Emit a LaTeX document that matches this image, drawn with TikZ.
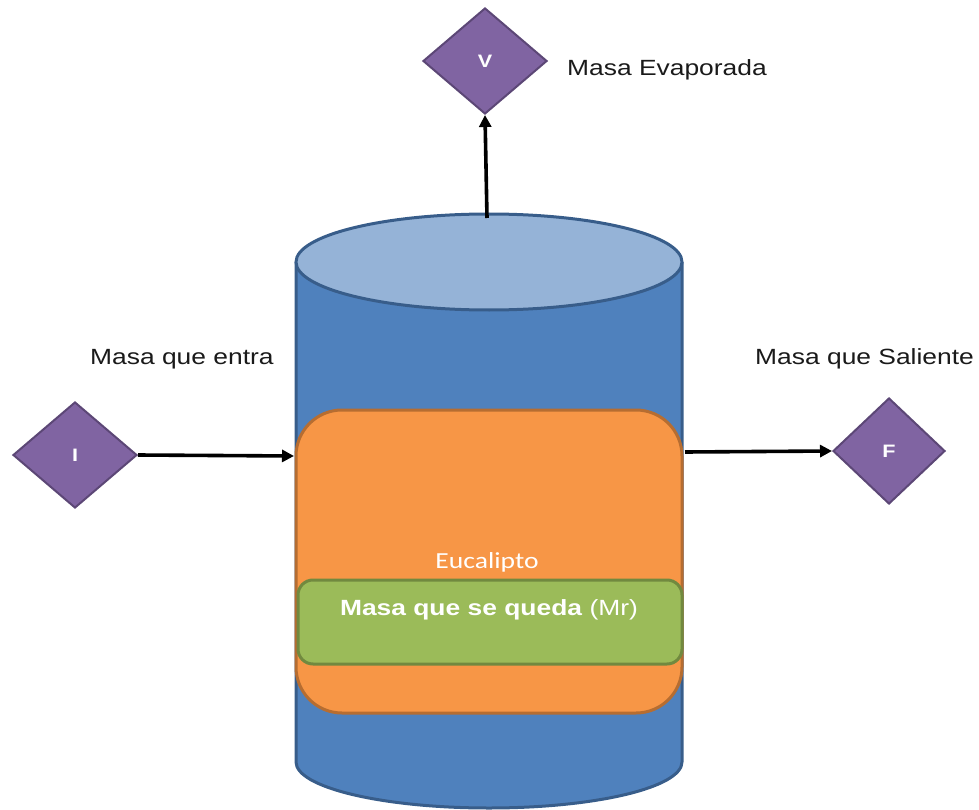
\documentclass[tikz,border=0pt]{standalone}
\usepackage{fontspec}
\setmainfont{Liberation Sans}
\newfontfamily\calibrifont{Carlito}
\usetikzlibrary{shapes.geometric,arrows.meta}
\definecolor{tankblue}{HTML}{4F81BD}
\definecolor{tankedge}{HTML}{385D8A}
\definecolor{tanktop}{HTML}{95B3D7}
\definecolor{orfill}{HTML}{F79646}
\definecolor{oredge}{HTML}{B66D31}
\definecolor{grfill}{HTML}{9BBB59}
\definecolor{gredge}{HTML}{71893F}
\definecolor{vfill}{HTML}{8064A2}
\definecolor{vedge}{HTML}{5C4776}
\definecolor{labelink}{HTML}{1A1A1A}
\newcommand{\wide}[1]{\scalebox{1.2}[1]{#1}}
\tikzset{
  flowmark/.style={diamond, fill=vfill, draw=vedge, line width=2pt, inner sep=0pt,
    minimum width=124pt, minimum height=106pt, text=white,
    font=\fontsize{18}{18}\selectfont\bfseries},
  sidelabel/.style={text=labelink, font=\fontsize{22}{24}\selectfont, inner sep=0pt},
  flowarrow/.style={line width=3.6pt, -{Triangle[length=12pt,width=12pt]}}
}
\begin{document}
\begin{tikzpicture}[x=1pt,y=-1pt]
\useasboundingbox (0,0) rectangle (979,810);

% tank body and lid
\fill[tankblue] (296,262) -- (296,762) arc[start angle=180,end angle=0,x radius=193,y radius=46] -- (682,262) -- cycle;
\draw[tankedge, line width=3pt] (296,262) -- (296,762) arc[start angle=180,end angle=0,x radius=193,y radius=46] -- (682,262);
\draw[tankedge, line width=3pt, fill=tanktop] (489,262) ellipse[x radius=193, y radius=48];
\coordinate (lid) at (487,218);

% contents
\node[draw=oredge, fill=orfill, line width=3pt, rounded corners=46pt,
  minimum width=386pt, minimum height=303pt, inner sep=0pt] (euc) at (489,561.5) {};
\node[text=white, font=\calibrifont\fontsize{23}{24}\selectfont, inner sep=0pt] (euclabel) at (487,562) {\wide{Eucalipto}};
\node[draw=gredge, fill=grfill, line width=3pt, rounded corners=15pt,
  minimum width=384pt, minimum height=84pt, inner sep=0pt] (kept) at (490,622) {};
\node[text=white, font=\fontsize{22}{24}\selectfont, inner sep=0pt] (keptlabel) at (489,610)
  {\wide{\textbf{Masa que se queda} (Mr)}};

% stream markers
\node[flowmark] (V) at (485,61) {\wide{V}};
\node[flowmark] (I) at (75,455) {\wide{I}};
\node[flowmark, minimum width=112pt] (F) at (889,451) {\wide{F}};

% labels
\node[sidelabel, anchor=west] (lv) at (567,70) {\wide{Masa Evaporada}};
\node[sidelabel, anchor=west] (li) at (90,359) {\wide{Masa que entra}};
\node[sidelabel, anchor=west] (lf) at (755,359) {\wide{Masa que Saliente}};

% streams
\coordinate (inlet) at (294,456);
\coordinate (outlet) at (685,452);
\draw[flowarrow] (lid) -- (V.south);
\draw[flowarrow] (I.east) -- (inlet);
\draw[flowarrow] (outlet) -- (F.west);
\end{tikzpicture}
\end{document}
